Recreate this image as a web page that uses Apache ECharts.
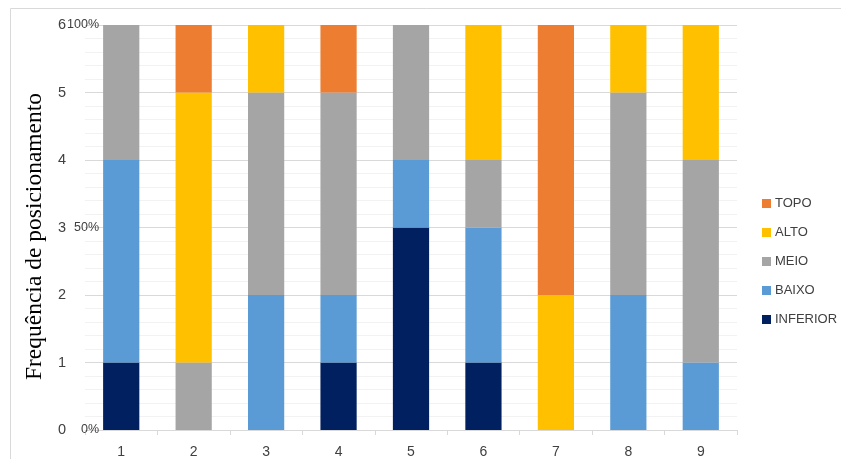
<!DOCTYPE html>
<html>
<head>
<meta charset="utf-8">
<script src="https://cdn.jsdelivr.net/npm/echarts@6/dist/echarts.min.js"></script>
<style>
  html, body { margin: 0; padding: 0; background: #fff; }
  #chart { width: 841px; height: 459px; }
</style>
</head>
<body>
<div id="chart"></div>
<script>
// Positioning categories (1..9) and counts per level
const categories = ['1', '2', '3', '4', '5', '6', '7', '8', '9'];
const inferior = [1, 0, 0, 1, 3, 1, 0, 0, 0];
const baixo    = [3, 0, 2, 1, 1, 2, 0, 2, 1];
const meio     = [2, 1, 3, 3, 2, 1, 0, 3, 3];
const alto     = [0, 4, 1, 0, 0, 2, 2, 1, 2];
const topo     = [0, 1, 0, 1, 0, 0, 4, 0, 0];
const countTicks = [0, 1, 2, 3, 4, 5, 6];
const percentTicks = ['0%', '50%', '100%'];

const colors = {
  TOPO: '#ED7D31',
  ALTO: '#FFC000',
  MEIO: '#A5A5A5',
  BAIXO: '#5B9BD5',
  INFERIOR: '#002060'
};

const levels = [
  ['INFERIOR', inferior],
  ['BAIXO', baixo],
  ['MEIO', meio],
  ['ALTO', alto],
  ['TOPO', topo]
];

const chart = echarts.init(document.getElementById('chart'), null, { renderer: 'canvas' });

chart.setOption({
  animation: false,
  backgroundColor: '#ffffff',
  graphic: [{
    type: 'rect',
    shape: { x: 10.5, y: 8.5, width: 840, height: 460 },
    style: { fill: 'none', stroke: '#D9D9D9', lineWidth: 1 },
    silent: true
  }],
  grid: { left: 85, right: 104, top: 25, bottom: 29, containLabel: false },
  legend: {
    orient: 'vertical',
    left: 757,
    top: 192,
    itemWidth: 9,
    itemHeight: 9,
    itemGap: 16,
    icon: 'rect',
    data: ['TOPO', 'ALTO', 'MEIO', 'BAIXO', 'INFERIOR'],
    textStyle: { fontFamily: 'Liberation Sans', fontSize: 13, color: '#404040', padding: [0, 0, 0, -1] }
  },
  xAxis: {
    type: 'category',
    data: categories,
    axisLine: { lineStyle: { color: '#D9D9D9' } },
    axisTick: { show: true, length: 5, lineStyle: { color: '#D9D9D9' } },
    axisLabel: { fontFamily: 'Liberation Sans', fontSize: 14, color: '#404040', margin: 15 }
  },
  yAxis: [{
    type: 'value',
    min: 0,
    max: 6,
    interval: 1,
    name: 'Frequência de posicionamento',
    nameLocation: 'middle',
    nameGap: 37,
    nameTextStyle: { fontFamily: 'Liberation Serif', fontSize: 23.5, color: '#000', padding: [0, 18, 0, 0] },
    axisLine: { show: false },
    axisTick: { show: false },
    axisLabel: {
      fontFamily: 'Liberation Sans', fontSize: 14.5, color: '#404040', margin: 19,
      formatter: v => countTicks.includes(v) ? String(v) : ''
    },
    splitLine: { lineStyle: { color: '#D9D9D9' } },
    minorTick: { show: false, splitNumber: 5 },
    minorSplitLine: { show: true, lineStyle: { color: '#F2F2F2' } }
  }, {
    type: 'value',
    position: 'left',
    min: 0,
    max: 100,
    interval: 50,
    axisLine: { show: false },
    axisTick: { show: false },
    splitLine: { show: false },
    axisLabel: {
      fontFamily: 'Liberation Sans', fontSize: 12.5, color: '#404040',
      align: 'right', margin: -14,
      formatter: v => percentTicks[v / 50]
    }
  }],
  series: levels.map(([name, values]) => ({
    name,
    type: 'bar',
    stack: 'total',
    barWidth: '50%',
    itemStyle: { color: colors[name] },
    data: values
  }))
});
</script>
</body>
</html>
